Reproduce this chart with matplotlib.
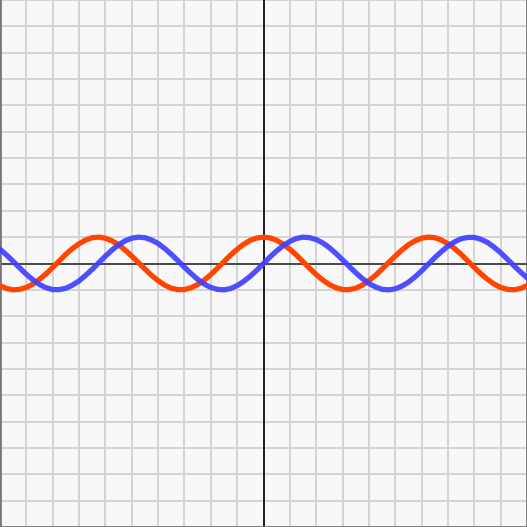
import numpy as np
import matplotlib.pyplot as plt

# sample positions, step 0.25 over the visible range
x_step = 0.25
x_vals = np.arange(-10, 10 + x_step / 2, x_step)

# red curve (x = -10 ... 10)
red_half = [1.00, 0.97, 0.88, 0.73, 0.54, 0.32, 0.07, -0.18, -0.42, -0.63,
            -0.80, -0.92, -0.99, -0.99, -0.94, -0.82, -0.65, -0.45, -0.21, 0.04,
            0.28, 0.51, 0.71, 0.86, 0.96, 1.00, 0.98, 0.89, 0.75, 0.57,
            0.35, 0.10, -0.15, -0.39, -0.60, -0.78, -0.91, -0.98, -1.00, -0.95,
            -0.84]
# blue curve (x = 0 ... 10)
blue_half = [0.00, 0.25, 0.48, 0.68, 0.84, 0.95, 1.00, 0.98, 0.91, 0.78,
             0.60, 0.38, 0.14, -0.11, -0.35, -0.57, -0.76, -0.89, -0.98, -1.00,
             -0.96, -0.86, -0.71, -0.51, -0.28, -0.03, 0.22, 0.45, 0.66, 0.82,
             0.94, 0.99, 0.99, 0.92, 0.80, 0.62, 0.41, 0.17, -0.08, -0.32,
             -0.54]

red_vals = red_half[:0:-1] + red_half
blue_vals = [-v for v in blue_half[:0:-1]] + blue_half

fig = plt.figure(figsize=(5.27, 5.27), dpi=100)
ax = fig.add_axes([0, 0, 1, 1])
ax.set_facecolor('#f8f8f8')
ax.set_xlim(-10, 10)
ax.set_ylim(-10, 10)

ax.set_xticks(np.arange(-10, 11, 1))
ax.set_yticks(np.arange(-10, 11, 1))
ax.grid(True, color='#d4d4d4', linewidth=1.4)
ax.tick_params(length=0, labelbottom=False, labelleft=False)
ax.set_axisbelow(True)

ax.axhline(0, color='#222222', linewidth=1.1, zorder=2)
ax.axvline(0, color='#111111', linewidth=1.3, zorder=2)

ax.plot(x_vals, red_vals, color='#ff4500', linewidth=3.8,
        solid_capstyle='round', zorder=3)
ax.plot(x_vals, blue_vals, color='#4040ff', linewidth=3.8, alpha=0.92,
        solid_capstyle='round', zorder=4)

for side in ['left', 'bottom', 'right']:
    ax.spines[side].set_color('#777777')
    ax.spines[side].set_linewidth(2)
ax.spines['top'].set_visible(False)

fig.savefig('out.png', dpi=100, facecolor='white')
